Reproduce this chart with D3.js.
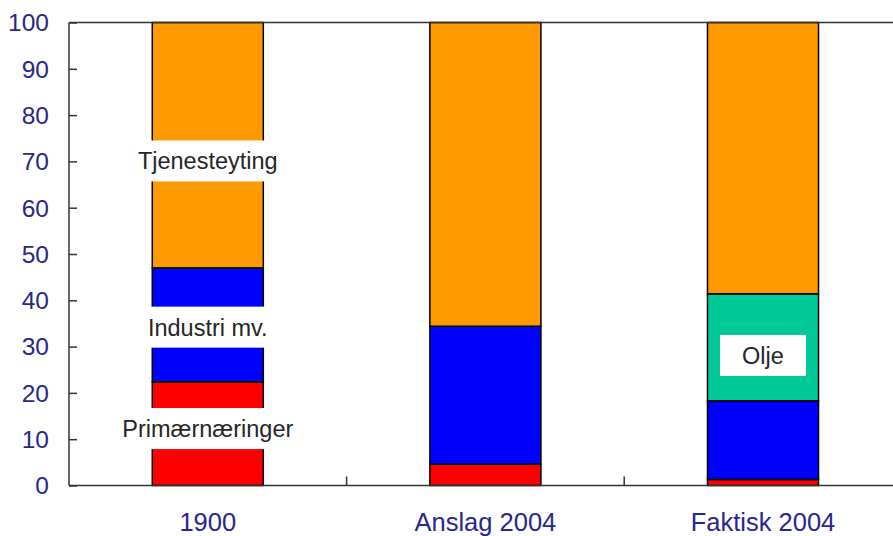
<!DOCTYPE html>
<html>
<head>
<meta charset="utf-8">
<script src="https://cdn.jsdelivr.net/npm/d3@7"></script>
<style>
  html, body { margin: 0; padding: 0; background: #fff; }
  svg { display: block; font-family: "Liberation Sans", Arial, sans-serif; }
</style>
</head>
<body>
<svg id="chart" width="893" height="536"></svg>
<script>
// Sector shares of employment (per cent)
const categories = ["1900", "Anslag 2004", "Faktisk 2004"];
const primaernaeringer = [22.4, 4.6, 1.3];
const industri = [24.6, 29.8, 17.0];
const olje = [0, 0, 23.1];
const tjenesteyting = [53.0, 65.6, 58.6];
const yTicks = [0, 10, 20, 30, 40, 50, 60, 70, 80, 90, 100];

// Segment labels: text, bar, vertical position in axis units
const labelTexts = ["Tjenesteyting", "Industri mv.", "Primærnæringer", "Olje"];
const labelBars = ["1900", "1900", "1900", "Faktisk 2004"];
const labelValues = [70.1, 34.2, 12.3, 28.1];

(function draw() {
  const keys = ["primaer", "industri", "olje", "tjeneste"];
  const colors = { primaer: "#ff0000", industri: "#0000ff", olje: "#00c896", tjeneste: "#ff9900" };

  const rows = categories.map((c, i) => ({
    cat: c,
    primaer: primaernaeringer[i],
    industri: industri[i],
    olje: olje[i],
    tjeneste: tjenesteyting[i]
  }));

  const svg = d3.select("#chart");
  const W = 893;
  const plotLeft = 69, plotTop = 22.5, plotBottom = 485.5;
  const bandStep = 277.6;

  const x = d3.scaleBand()
    .domain(categories)
    .range([plotLeft, plotLeft + bandStep * categories.length])
    .paddingInner(0.6)
    .paddingOuter(0.3);

  const y = d3.scaleLinear().domain([0, 100]).range([plotBottom, plotTop]);

  const series = d3.stack().keys(keys)(rows);

  // Bars
  const g = svg.append("g");
  series.forEach(s => {
    g.selectAll(null)
      .data(s.filter(d => d[1] - d[0] > 0))
      .join("rect")
      .attr("x", d => x(d.data.cat))
      .attr("width", x.bandwidth())
      .attr("y", d => y(d[1]))
      .attr("height", d => y(d[0]) - y(d[1]))
      .attr("fill", colors[s.key])
      .attr("stroke", "#000")
      .attr("stroke-width", 1.5);
  });

  // Frame: top line, left axis, bottom axis
  const axisColor = "#333";
  svg.append("line").attr("x1", plotLeft).attr("x2", W).attr("y1", plotTop).attr("y2", plotTop)
    .attr("stroke", axisColor).attr("stroke-width", 1.5);
  svg.append("line").attr("x1", plotLeft).attr("x2", plotLeft).attr("y1", plotTop).attr("y2", plotBottom)
    .attr("stroke", axisColor).attr("stroke-width", 1.5);
  svg.append("line").attr("x1", plotLeft).attr("x2", W).attr("y1", plotBottom).attr("y2", plotBottom)
    .attr("stroke", axisColor).attr("stroke-width", 1.5);

  // Y axis ticks and labels
  const yAxis = d3.axisRight(y).tickValues(yTicks).tickSize(8).tickFormat("");
  const ya = svg.append("g").attr("transform", `translate(${plotLeft},0)`).call(yAxis);
  ya.select(".domain").remove();
  ya.selectAll(".tick line").attr("stroke", axisColor).attr("stroke-width", 1.5);

  svg.append("g").selectAll("text")
    .data(yTicks)
    .join("text")
    .attr("x", 49)
    .attr("y", d => y(d))
    .attr("dy", "0.36em")
    .attr("text-anchor", "end")
    .attr("font-size", 24.5)
    .attr("fill", "#27278c")
    .text(d => d);

  // X ticks between categories
  const sep = categories.slice(1).map(c => x(c) - x.step() * x.paddingInner() / 2);
  svg.append("g").selectAll("line")
    .data(sep)
    .join("line")
    .attr("x1", d => d).attr("x2", d => d)
    .attr("y1", plotBottom).attr("y2", plotBottom - 9)
    .attr("stroke", axisColor).attr("stroke-width", 1.5);

  // Category labels
  svg.append("g").selectAll("text")
    .data(categories)
    .join("text")
    .attr("x", d => x(d) + x.bandwidth() / 2)
    .attr("y", 531)
    .attr("text-anchor", "middle")
    .attr("font-size", 25.5)
    .attr("fill", "#27278c")
    .text(d => d);

  // Segment labels on white boxes
  const lg = svg.append("g");
  labelTexts.forEach((t, i) => {
    const cx = x(labelBars[i]) + x.bandwidth() / 2;
    const cy = y(labelValues[i]);
    const txt = lg.append("text")
      .attr("x", cx)
      .attr("y", cy)
      .attr("dy", "0.36em")
      .attr("text-anchor", "middle")
      .attr("font-size", 23.5)
      .attr("fill", "#262626")
      .text(t);
    const w = txt.node().getComputedTextLength();
    const bw = t === "Olje" ? 86 : Math.max(w + 10, x.bandwidth() + 4);
    lg.insert("rect", "text")
      .attr("x", cx - bw / 2)
      .attr("y", cy - 20.5)
      .attr("width", bw)
      .attr("height", 41)
      .attr("fill", "#fff");
  });
})();
</script>
</body>
</html>
